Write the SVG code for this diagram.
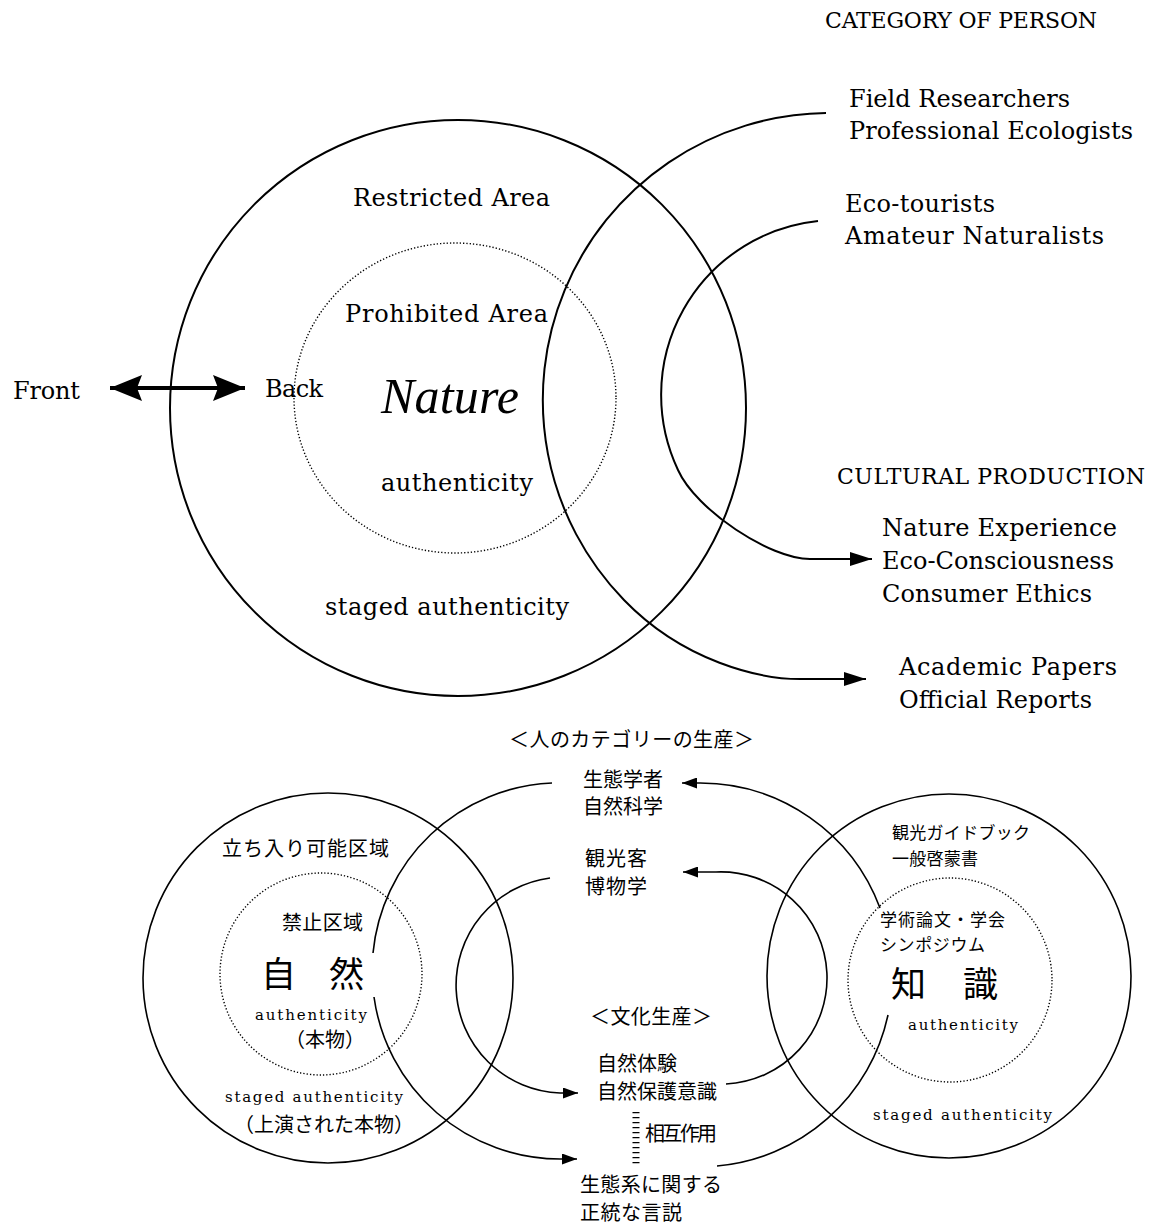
<svg xmlns="http://www.w3.org/2000/svg" width="1149" height="1225" viewBox="0 0 1149 1225">
<style>
.ln{fill:none;stroke:#000;stroke-width:2}
.lb{fill:none;stroke:#000;stroke-width:1.6}
.dt{fill:none;stroke:#000;stroke-width:1.4;stroke-dasharray:1.3 2}
.en{font-family:"DejaVu Serif","Liberation Serif",serif;font-size:24px;fill:#000}
.hd{font-size:22px}
.sm{font-family:"DejaVu Serif","Liberation Serif",serif;font-size:15px;fill:#000}
.jp{font-family:"Noto Sans CJK JP","Noto Sans CJK SC",sans-serif;font-size:20px;fill:#000}
.js{font-size:17px}
.jb{font-size:35px}
</style>
<defs>
<marker id="ah" markerUnits="userSpaceOnUse" viewBox="0 0 22 14" refX="22" refY="7" markerWidth="22" markerHeight="14" orient="auto"><path d="M0,0 L22,7 L0,14 Z" fill="#000"/></marker>
<marker id="as" markerUnits="userSpaceOnUse" viewBox="0 0 15 11" refX="15" refY="5.5" markerWidth="15" markerHeight="11" orient="auto"><path d="M0,0 L15,5.5 L0,11 Z" fill="#000"/></marker>
<marker id="ab" markerUnits="userSpaceOnUse" viewBox="0 0 32 26" refX="32" refY="13" markerWidth="32" markerHeight="26" orient="auto"><path d="M0,0 L32,13 L0,26 L5,13 Z" fill="#000"/></marker>
</defs>

<g id="top-diagram">
<circle id="nature-circle" class="ln" cx="458" cy="408" r="288"/>
<ellipse id="prohibited-circle" class="dt" cx="455" cy="398" rx="161" ry="155"/>
</g>

<g id="bottom-diagram">
<circle id="shizen-circle" class="lb" cx="328" cy="978" r="185"/>
<circle id="shizen-inner" class="dt" cx="321" cy="974" r="101"/>
<circle id="chishiki-circle" class="lb" cx="949" cy="976" r="182"/>
<circle id="chishiki-inner" class="dt" cx="950" cy="980" r="102"/>
</g>

<g id="connectors">
<path id="front-back" d="M140 388 L213 388" stroke="#000" stroke-width="4" fill="none"/>
<path d="M140 388 L110 388" stroke="#000" stroke-width="4" fill="none" marker-end="url(#ab)"/>
<path d="M213 388 L245 388" stroke="#000" stroke-width="4" fill="none" marker-end="url(#ab)"/>
<path id="c-researchers" class="ln" d="M826 113 A287 287 0 0 0 624 600 C684 662 760 679 800 679 L866 679" marker-end="url(#ah)"/>
<path id="c-ecotourists" class="ln" d="M818 221 A175 175 0 0 0 678 470 C696 510 770 559 810 559 L872 559" marker-end="url(#ah)"/>
<path id="c-ecologist-a" class="lb" d="M552 783 A188 188 0 0 0 373 953"/>
<path id="c-ecologist-b" class="lb" d="M374 997 A188 188 0 0 0 560 1159 L577 1159" marker-end="url(#as)"/>
<path id="c-tourist" class="lb" d="M550 878 A108 108 0 0 0 560 1093 L578 1093" marker-end="url(#as)"/>
<path id="c-discourse-a" class="lb" d="M717 1166 A192 192 0 0 0 888 1015"/>
<path id="c-discourse-b" class="lb" d="M880 908 A192 192 0 0 0 700 783 L682 783" marker-end="url(#as)"/>
<path id="c-conscious" class="lb" d="M726 1084 A106 106 0 0 0 716 872 L683 872" marker-end="url(#as)"/>
<line id="c-interaction" x1="636" y1="1112" x2="636" y2="1167" stroke="#000" stroke-width="7" stroke-dasharray="1.3 3.7"/>
</g>

<g id="top-labels" class="en">
<text x="825" y="28" class="hd" textLength="272">CATEGORY OF PERSON</text>
<text x="849" y="107" textLength="221">Field Researchers</text>
<text x="849" y="139" textLength="284">Professional Ecologists</text>
<text x="845" y="212" textLength="150">Eco-tourists</text>
<text x="845" y="244" textLength="259">Amateur Naturalists</text>
<text x="353" y="206" textLength="197">Restricted Area</text>
<text x="345" y="322" textLength="203">Prohibited Area</text>
<text x="381" y="413" font-family="Liberation Serif, serif" font-style="italic" font-size="50" textLength="138">Nature</text>
<text x="381" y="491" textLength="152">authenticity</text>
<text x="325" y="615" textLength="244">staged authenticity</text>
<text x="13" y="399" textLength="67">Front</text>
<text x="265" y="397" textLength="58">Back</text>
<text x="837" y="484" class="hd" textLength="308">CULTURAL PRODUCTION</text>
<text x="882" y="536" textLength="235">Nature Experience</text>
<text x="882" y="569" textLength="232">Eco-Consciousness</text>
<text x="882" y="602" textLength="210">Consumer Ethics</text>
<text x="899" y="675" textLength="218">Academic Papers</text>
<text x="899" y="708" textLength="193">Official Reports</text>
</g>

<g id="bottom-labels">
<text class="jp" x="509" y="747" textLength="245">＜人のカテゴリーの生産＞</text>
<text class="jp" x="583" y="787" textLength="80">生態学者</text>
<text class="jp" x="583" y="814" textLength="80">自然科学</text>
<text class="jp" x="585" y="866" textLength="62">観光客</text>
<text class="jp" x="585" y="894" textLength="62">博物学</text>
<text class="jp" x="222" y="856" textLength="167">立ち入り可能区域</text>
<text class="jp" x="282" y="930" textLength="81">禁止区域</text>
<text class="jp jb" x="261" y="987" textLength="103">自　然</text>
<text class="sm" x="255" y="1020" textLength="112">authenticity</text>
<text class="jp" x="285" y="1047" font-size="16">（本物）</text>
<text class="sm" x="225" y="1102" textLength="178">staged authenticity</text>
<text class="jp" x="234" y="1132" font-size="18">（上演された本物）</text>
<text class="jp" x="590" y="1024" textLength="122">＜文化生産＞</text>
<text class="jp" x="597" y="1071" textLength="80">自然体験</text>
<text class="jp" x="597" y="1099" textLength="120">自然保護意識</text>
<text class="jp" x="645" y="1141" font-size="18" textLength="72">相互作用</text>
<text class="jp" x="580" y="1192" textLength="142">生態系に関する</text>
<text class="jp" x="580" y="1220" textLength="102">正統な言説</text>
<text class="jp js" x="892" y="839" textLength="138">観光ガイドブック</text>
<text class="jp js" x="892" y="865" textLength="86">一般啓蒙書</text>
<text class="jp js" x="880" y="926" textLength="125">学術論文・学会</text>
<text class="jp js" x="880" y="951" textLength="105">シンポジウム</text>
<text class="jp jb" x="891" y="997" textLength="107">知　識</text>
<text class="sm" x="908" y="1030" textLength="110">authenticity</text>
<text class="sm" x="873" y="1120" textLength="179">staged authenticity</text>
</g>
</svg>
